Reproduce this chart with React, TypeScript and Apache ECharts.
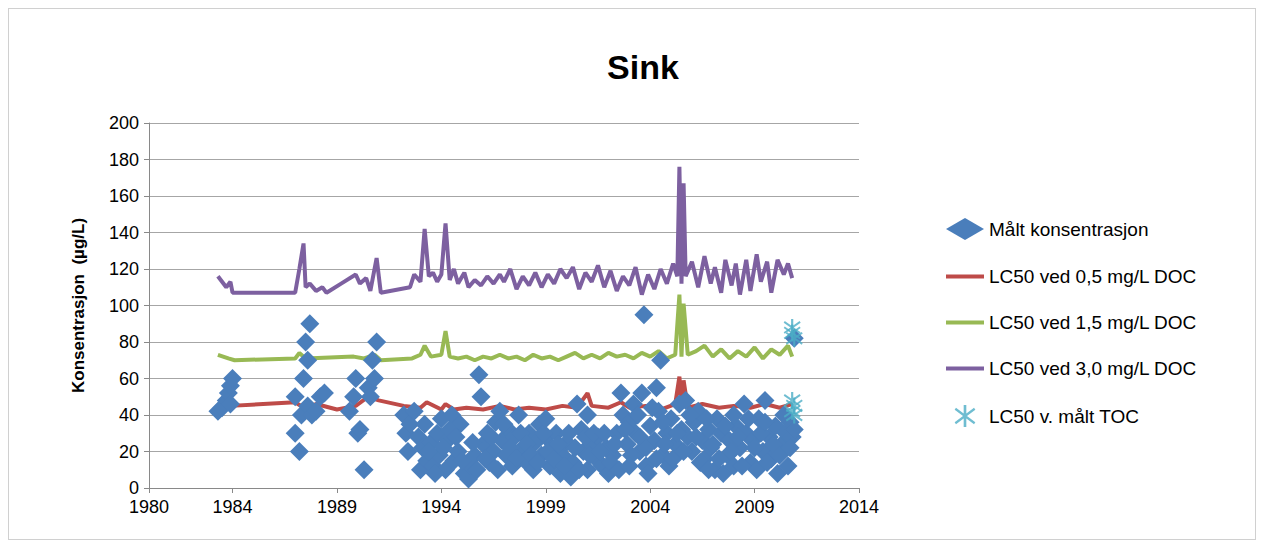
import { useEffect, useRef } from 'react';
import * as echarts from 'echarts';

// Målt konsentrasjon [år, µg/L]
const maalt: [number, number][] = [
    [1983.3, 42], [1983.5, 44], [1983.7, 48], [1983.8, 52], [1983.9, 56], [1984.0, 60], [1983.9, 46],
    [1987.0, 50], [1987.0, 30], [1987.2, 20], [1987.3, 40], [1987.4, 60], [1987.5, 80], [1987.6, 70], [1987.7, 90], [1987.6, 45], [1987.8, 40], [1988.0, 42], [1988.2, 50], [1988.4, 52],
    [1989.6, 42], [1989.8, 50], [1989.9, 60], [1990.0, 30], [1990.1, 32], [1990.3, 10], [1990.5, 55], [1990.6, 50], [1990.7, 70], [1990.8, 60], [1990.9, 80],
    [1992.2, 40], [1992.3, 30], [1992.4, 20], [1992.5, 35], [1992.7, 42], [1992.9, 28], [1993.0, 10], [1993.1, 22], [1993.3, 15], [1993.5, 25], [1993.6, 12], [1993.8, 30], [1993.9, 18], [1994.0, 38], [1994.2, 10], [1994.3, 26], [1994.5, 40], [1994.6, 15], [1994.8, 20], [1994.9, 35],
    [1995.1, 8], [1995.3, 5], [1995.4, 12], [1995.6, 18], [1995.8, 62], [1995.9, 50], [1996.0, 24], [1996.2, 30], [1996.3, 14], [1996.5, 20], [1996.6, 36], [1996.8, 42], [1996.9, 26], [1997.1, 18], [1997.2, 32], [1997.4, 12], [1997.5, 28], [1997.7, 40], [1997.9, 22], [1998.0, 15],
    [1998.2, 30], [1998.4, 10], [1998.5, 25], [1998.7, 35], [1998.8, 18], [1999.0, 28], [1999.2, 12], [1999.3, 22], [1999.5, 30], [1999.7, 8], [1999.8, 18], [2000.0, 25], [2000.2, 6], [2000.3, 14], [2000.5, 46], [2000.7, 32], [2000.8, 20], [2001.0, 10], [2001.2, 24],
    [2001.4, 16], [2001.5, 28], [2001.7, 12], [2001.9, 22], [2002.0, 8], [2002.2, 18], [2002.4, 30], [2002.6, 52], [2002.7, 40], [2002.9, 24], [2003.0, 36], [2003.2, 46], [2003.3, 30], [2003.5, 20], [2003.6, 52], [2003.7, 95], [2003.8, 12], [2003.9, 8], [2004.0, 34],
    [2004.2, 26], [2004.3, 55], [2004.4, 42], [2004.5, 70], [2004.6, 18], [2004.8, 30], [2004.9, 12], [2005.0, 38], [2005.2, 24], [2005.4, 46], [2005.5, 32], [2005.7, 48], [2005.8, 28], [2006.0, 20], [2006.1, 36],
    [2006.3, 42], [2006.5, 26], [2006.6, 16], [2006.8, 32], [2006.9, 22], [2007.1, 10], [2007.2, 38], [2007.4, 30], [2007.5, 8], [2007.7, 18], [2007.8, 26], [2008.0, 12], [2008.1, 34], [2008.3, 22], [2008.5, 46],
    [2008.6, 30], [2008.8, 14], [2008.9, 26], [2009.1, 10], [2009.2, 38], [2009.4, 20], [2009.5, 48], [2009.7, 28], [2009.8, 16], [2010.0, 34], [2010.1, 8], [2010.3, 24], [2010.5, 30], [2010.7, 36], [2010.8, 28], [2010.9, 82],
    // tettere sky
    [1993.2, 35], [1993.4, 20], [1993.7, 8], [1994.1, 22], [1994.4, 32], [1994.7, 28], [1995.0, 15], [1995.5, 25], [1995.7, 10], [1996.1, 16], [1996.4, 28], [1996.7, 10], [1997.0, 35], [1997.3, 22], [1997.6, 16],
    [1997.8, 30], [1998.1, 24], [1998.3, 18], [1998.6, 14], [1998.9, 30], [1999.1, 20], [1999.4, 16], [1999.6, 24], [1999.9, 12], [2000.1, 30], [2000.4, 22], [2000.6, 10], [2000.9, 28], [2001.1, 18], [2001.3, 30],
    [2001.6, 20], [2001.8, 30], [2002.1, 14], [2002.3, 24], [2002.5, 10], [2002.8, 32], [2003.1, 18], [2003.4, 40], [2003.5, 28], [2003.8, 22], [2004.1, 44], [2004.3, 16], [2004.6, 36], [2004.7, 24], [2005.1, 16],
    [2005.3, 30], [2005.6, 20], [2005.9, 40], [2006.2, 28], [2006.4, 14], [2006.7, 38], [2007.0, 24], [2007.3, 16], [2007.6, 34], [2007.9, 20], [2008.2, 28], [2008.4, 12], [2008.7, 38], [2009.0, 22], [2009.3, 30],
    [2009.6, 14], [2009.9, 24], [2010.2, 18], [2010.4, 40], [2010.6, 12], [2010.9, 32], [2010.7, 22], [2009.5, 36], [2008.0, 40], [2006.8, 10], [2003.0, 12], [2001.0, 40], [1999.0, 38]
];

// LC50 ved 0,5 mg/L DOC
const lc05: [number, number][] = [
    [1983.9, 45], [1987.0, 47], [1987.4, 44], [1988.0, 46], [1989.0, 43], [1989.9, 45], [1990.5, 50], [1991.0, 48], [1992.2, 45], [1993.0, 44], [1993.3, 47], [1994.0, 43], [1994.2, 46], [1994.6, 43],
    [1995.2, 44], [1996.0, 43], [1996.8, 45], [1997.5, 43], [1998.2, 44], [1999.0, 43], [1999.8, 45], [2000.5, 44], [2001.0, 52], [2001.2, 45], [2002.0, 44], [2002.6, 47], [2003.0, 44],
    [2003.8, 45], [2004.5, 43], [2005.2, 46], [2005.4, 61], [2005.5, 45], [2005.6, 59], [2005.8, 44], [2006.5, 46], [2007.3, 44], [2008.0, 45], [2008.8, 44], [2009.5, 46], [2010.2, 44], [2010.8, 46]
];

// LC50 ved 1,5 mg/L DOC
const lc15: [number, number][] = [
    [1983.3, 73], [1983.8, 71], [1984.1, 70], [1987.0, 71], [1987.2, 74], [1987.5, 71], [1989.8, 72], [1990.3, 71], [1990.8, 73], [1991.1, 70], [1992.6, 71], [1993.0, 73], [1993.2, 78], [1993.5, 72], [1994.0, 73], [1994.2, 86], [1994.4, 72], [1994.8, 71],
    [1995.2, 72], [1995.6, 70], [1996.0, 72], [1996.4, 71], [1996.8, 73], [1997.2, 71], [1997.6, 72], [1998.0, 70], [1998.4, 73], [1998.8, 71], [1999.2, 72], [1999.6, 70], [2000.0, 72], [2000.4, 74], [2000.8, 71],
    [2001.2, 73], [2001.6, 71], [2002.0, 74], [2002.4, 72], [2002.8, 73], [2003.2, 71], [2003.6, 74], [2004.0, 72], [2004.4, 75], [2004.8, 71], [2005.2, 73], [2005.4, 106], [2005.5, 72], [2005.6, 101], [2005.8, 73],
    [2006.2, 75], [2006.6, 78], [2007.0, 72], [2007.4, 76], [2007.8, 71], [2008.2, 75], [2008.6, 72], [2009.0, 77], [2009.4, 71], [2009.8, 76], [2010.2, 73], [2010.6, 78], [2010.8, 72]
];

// LC50 ved 3,0 mg/L DOC
const lc30: [number, number][] = [
    [1983.3, 116], [1983.7, 110], [1983.9, 113], [1984.0, 107], [1987.0, 107], [1987.2, 120], [1987.4, 134], [1987.5, 110], [1987.7, 112], [1988.0, 108], [1988.3, 110], [1988.5, 107], [1989.2, 112], [1989.9, 117], [1990.1, 112], [1990.4, 115], [1990.6, 108],
    [1990.9, 126], [1991.1, 107], [1992.5, 110], [1992.7, 117], [1993.0, 113], [1993.2, 142], [1993.4, 116], [1993.6, 118], [1993.8, 113], [1994.0, 117], [1994.2, 145], [1994.4, 114], [1994.6, 120], [1994.8, 112],
    [1995.1, 118], [1995.3, 110], [1995.6, 114], [1995.9, 111], [1996.2, 116], [1996.5, 112], [1996.8, 117], [1997.0, 113], [1997.3, 120], [1997.6, 109], [1997.9, 116], [1998.2, 111], [1998.5, 118], [1998.8, 110],
    [1999.1, 117], [1999.4, 112], [1999.7, 120], [2000.0, 115], [2000.3, 121], [2000.6, 109], [2000.9, 118], [2001.2, 113], [2001.5, 122], [2001.8, 110], [2002.1, 119], [2002.4, 108], [2002.7, 116], [2003.0, 111],
    [2003.3, 121], [2003.6, 106], [2003.9, 117], [2004.2, 109], [2004.5, 120], [2004.8, 112], [2005.1, 123], [2005.3, 116], [2005.4, 176], [2005.5, 112], [2005.6, 167], [2005.7, 116], [2006.0, 124], [2006.3, 110],
    [2006.6, 127], [2006.9, 112], [2007.1, 121], [2007.4, 107], [2007.6, 125], [2007.9, 111], [2008.1, 123], [2008.3, 106], [2008.6, 125], [2008.8, 108], [2009.1, 128], [2009.3, 113], [2009.6, 124], [2009.8, 107],
    [2010.1, 125], [2010.4, 117], [2010.6, 123], [2010.8, 115]
];

// LC50 v. målt TOC
const toc: [number, number][] = [
    [2010.8, 88], [2010.8, 85], [2010.9, 82], [2010.8, 48], [2010.9, 45], [2010.8, 42], [2010.9, 40]
];

const xLabels = [1980, 1984, 1989, 1994, 1999, 2004, 2009, 2014];

const starPath = 'path://M4.4,0h1.2v10h-1.2z M0.3,2.2 L0.9,1.2 L9.7,7.8 L9.1,8.8z M0.3,7.8 L9.1,1.2 L9.7,2.2 L0.9,8.8z';
const lineIcon = 'path://M0,0h40v4h-40z';

export default function App() {
    const chartRef = useRef<HTMLDivElement>(null);

    useEffect(() => {
        if (!chartRef.current) return;
        const chart = echarts.init(chartRef.current, undefined, { renderer: 'svg' });
        const font = 'Liberation Sans';
        const lineSeries = (name: string, data: [number, number][], color: string) => ({
            name,
            type: 'line' as const,
            data,
            showSymbol: false,
            symbol: 'none',
            lineStyle: { color, width: 4 },
            itemStyle: { color },
            z: 3,
        });

        chart.setOption({
            animation: false,
            textStyle: { fontFamily: font },
            title: {
                text: 'Sink',
                left: 629,
                top: 36,
                textAlign: 'center',
                textStyle: { fontSize: 34, fontWeight: 'bold', color: '#000', fontFamily: font },
            },
            grid: { left: 140, top: 114, width: 710, height: 365 },
            xAxis: {
                type: 'value',
                min: 1980,
                max: 2014,
                axisLine: { show: true, lineStyle: { color: '#898989' } },
                axisTick: { show: true, customValues: xLabels, length: 5, lineStyle: { color: '#898989' } },
                axisLabel: { customValues: xLabels, color: '#000', fontSize: 18, margin: 10, formatter: (v: number) => String(v) },
                splitLine: { show: false },
            },
            yAxis: {
                type: 'value',
                min: 0,
                max: 200,
                interval: 20,
                name: 'Konsentrasjon  (µg/L)',
                nameLocation: 'middle',
                nameGap: 62,
                nameTextStyle: { fontSize: 17, fontWeight: 'bold', color: '#000' },
                axisLine: { show: true, lineStyle: { color: '#898989' } },
                axisTick: { show: true, length: 5, lineStyle: { color: '#898989' } },
                axisLabel: { color: '#000', fontSize: 18, margin: 10 },
                splitLine: { lineStyle: { color: '#a6a6a6', width: 1 } },
            },
            legend: {
                orient: 'vertical',
                left: 932,
                top: 204,
                itemGap: 27,
                itemWidth: 38,
                itemHeight: 22,
                textStyle: { fontSize: 19, color: '#000', fontFamily: font },
                data: [
                    { name: 'Målt konsentrasjon', icon: 'diamond' },
                    { name: 'LC50 ved 0,5 mg/L DOC', icon: lineIcon, itemStyle: { color: '#be4b48' } },
                    { name: 'LC50 ved 1,5 mg/L DOC', icon: lineIcon, itemStyle: { color: '#98b954' } },
                    { name: 'LC50 ved 3,0 mg/L DOC', icon: lineIcon, itemStyle: { color: '#7d60a0' } },
                    { name: 'LC50 v. målt TOC', icon: starPath },
                ],
            },
            series: [
                lineSeries('LC50 ved 3,0 mg/L DOC', lc30, '#7d60a0'),
                lineSeries('LC50 ved 1,5 mg/L DOC', lc15, '#98b954'),
                lineSeries('LC50 ved 0,5 mg/L DOC', lc05, '#be4b48'),
                {
                    name: 'Målt konsentrasjon',
                    type: 'scatter',
                    data: maalt,
                    symbol: 'diamond',
                    symbolSize: 19,
                    itemStyle: { color: '#4a7ebb', opacity: 1 },
                    z: 4,
                },
                {
                    name: 'LC50 v. målt TOC',
                    type: 'scatter',
                    data: toc,
                    symbol: starPath,
                    symbolSize: 17,
                    itemStyle: { color: '#4bacc6' },
                    z: 5,
                },
            ],
        });
        return () => chart.dispose();
    }, []);

    return (
        <div
            ref={chartRef}
            style={{ width: 1248, height: 532, border: '1px solid #d0d0d0', boxSizing: 'border-box' }}
        />
    );
}
